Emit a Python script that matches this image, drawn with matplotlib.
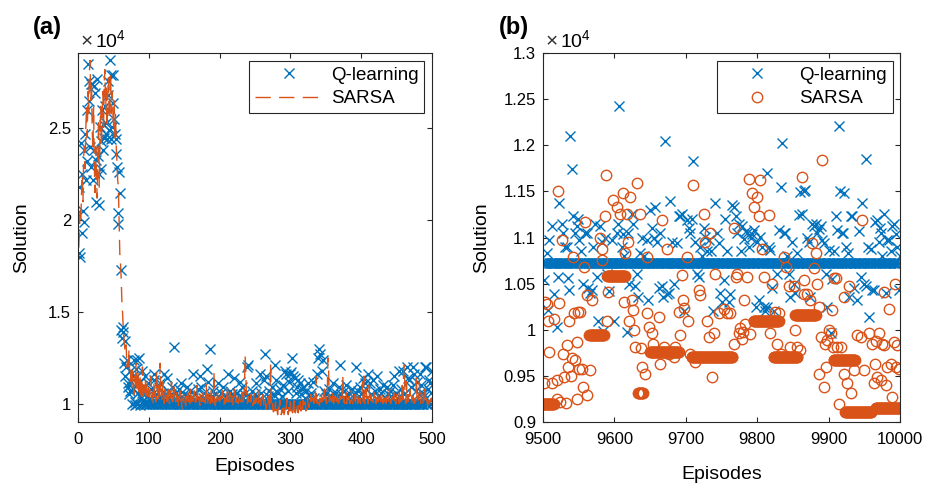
import numpy as np
import matplotlib
matplotlib.use('Agg')
import matplotlib.pyplot as plt
from matplotlib.ticker import FormatStrFormatter

plt.rcParams['font.family'] = ['Liberation Sans', 'DejaVu Sans']
plt.rcParams['mathtext.fontset'] = 'custom'
plt.rcParams['mathtext.rm'] = 'Liberation Sans'

BLUE = '#0072BD'
ORANGE = '#D95319'
AXCOL = '#262626'

# ---------------- panel (a): episodes 1..500, values in units of 1e4 ----------------
q_a_base = 1.0
# episodes 1..90, one value each
q_a_early = [1.82, 2.18, 1.80, 2.42, 1.93, 2.25, 2.05, 2.38, 1.99, 2.47,
             2.22, 2.60, 2.32, 2.85, 2.65, 2.76, 2.40, 2.74, 2.29, 2.74,
             2.22, 2.73, 2.38, 2.69, 2.33, 2.10, 2.77, 2.35, 2.25, 2.08,
             2.51, 2.28, 2.43, 2.60, 2.38, 2.52, 2.45, 2.62, 2.47, 2.53,
             2.44, 2.68, 2.76, 2.49, 2.87, 2.79, 2.44, 2.51, 2.79, 2.64,
             2.55, 2.47, 2.44, 2.36, 2.29, 2.04, 1.98, 2.26, 2.15, 1.73,
             1.40, 1.36, 1.42, 1.39, 1.22, 1.34, 1.15, 1.20, 1.24, 1.09,
             1.11, 1.05, 1.18, 1.07, 1.12, 1.00, 1.15, 1.08, 1.24, 1.01,
             0.99, 1.19, 1.24, 1.00, 1.06, 1.25, 0.99, 1.12, 1.03, 1.18]
# off-baseline Q-learning points after episode 90
q_a_ep = [91, 93, 95, 97, 99, 101, 103, 105, 107, 108, 110, 112, 114, 116, 118, 120,
          122, 124, 125, 127, 129, 131, 133, 135, 137, 139, 141, 143, 146, 148, 150,
          152, 154, 156, 158, 160, 163, 165, 167, 170, 172, 174, 176, 178, 180, 182,
          184, 187, 189, 191, 193, 195, 198, 200, 202, 205, 207, 209, 212, 214, 216,
          218, 221, 223, 225, 227, 229, 231, 233, 235, 238, 240, 242, 244, 246, 248,
          250, 252, 254, 257, 259, 262, 264, 266, 268, 270, 272, 274, 276, 278, 280,
          282, 284, 286, 288, 290, 292, 294, 296, 298, 299, 301, 302, 304, 306, 308,
          310, 311, 313, 315, 317, 318, 320, 322, 325, 327, 329, 332, 334, 337, 339,
          341, 342, 344, 346, 348, 350, 352, 355, 357, 360, 362, 364, 366, 368, 370,
          372, 374, 376, 379, 381, 383, 385, 387, 390, 393, 395, 397, 399, 401, 403,
          405, 407, 410, 412, 414, 417, 419, 422, 424, 426, 428, 431, 433, 436, 438,
          440, 442, 445, 447, 449, 451, 454, 456, 459, 461, 464, 466, 468, 470, 473,
          475, 477, 479, 481, 483, 485, 487, 489, 490, 492, 494, 496, 497, 499, 500]
q_a_val = [1.06, 1.02, 1.15, 1.04, 1.11, 1.03, 1.08, 1.01, 1.16, 1.13, 1.05, 1.02, 1.09, 1.11, 1.03, 1.06,
           1.16, 1.02, 1.14, 1.07, 1.03, 1.05, 1.09, 1.31, 1.02, 1.06, 1.04, 1.08, 1.11, 1.03, 1.05,
           1.02, 1.09, 1.04, 1.07, 1.03, 1.16, 1.05, 1.02, 1.08, 1.15, 1.09, 1.03, 1.06, 1.02, 1.19,
           1.12, 1.30, 1.04, 1.07, 1.02, 1.05, 1.11, 1.03, 1.06, 1.09, 1.02, 1.04, 1.16, 1.07, 1.03,
           1.05, 1.14, 1.02, 1.06, 1.04, 1.12, 1.09, 1.03, 1.05, 1.20, 1.21, 1.04, 1.02, 1.07, 1.03,
           1.05, 1.11, 1.02, 1.16, 1.06, 1.13, 1.27, 1.15, 1.04, 1.07, 1.03, 1.09, 1.05, 1.21, 1.13,
           1.06, 1.02, 1.08, 1.04, 1.10, 1.18, 1.16, 1.07, 1.12, 1.16, 1.17, 1.25, 1.15, 1.14, 1.06,
           1.09, 1.13, 1.11, 1.05, 1.08, 1.09, 1.03, 1.07, 1.11, 1.04, 1.06, 1.12, 1.03, 1.16, 1.25,
           1.30, 1.27, 1.18, 1.24, 1.07, 1.05, 1.03, 1.08, 1.04, 1.11, 1.02, 1.06, 1.04, 1.09, 1.21,
           1.05, 1.03, 1.07, 1.10, 1.04, 1.06, 1.02, 1.08, 1.05, 1.20, 1.07, 1.04, 1.09, 1.06, 1.14,
           1.11, 1.08, 1.16, 1.11, 1.05, 1.13, 1.07, 1.15, 1.04, 1.08, 1.06, 1.10, 1.03, 1.09, 1.05,
           1.07, 1.04, 1.10, 1.15, 1.06, 1.03, 1.18, 1.08, 1.18, 1.05, 1.20, 1.14, 1.13, 1.09, 1.20,
           1.16, 1.07, 1.12, 1.05, 1.16, 1.10, 1.06, 1.04, 1.20, 1.20, 1.08, 1.13, 1.11, 1.06, 1.18]

# SARSA, episodes 1..500
sarsa_a = [1.85, 1.95, 2.05, 2.00, 2.15, 2.25, 2.10, 2.35, 2.40, 2.28, 2.50, 2.62, 2.45, 2.70, 2.58, 2.80, 2.87, 2.65, 2.75, 2.50, 2.38, 2.62, 2.30, 2.15, 2.40,
           2.25, 2.12, 2.35, 2.55, 2.18, 2.45, 2.62, 2.40, 2.55, 2.70, 2.48, 2.75, 2.82, 2.60, 2.72, 2.50, 2.68, 2.78, 2.55, 2.65, 2.80, 2.58, 2.70, 2.62, 2.50,
           2.65, 2.45, 2.58, 2.40, 2.32, 2.22, 2.18, 2.00, 1.82, 1.76, 1.68, 1.55, 1.49, 1.40, 1.35, 1.30, 1.28, 1.32, 1.20, 1.24, 1.18, 1.30, 1.15, 1.12, 1.20,
           1.08, 1.18, 1.12, 1.05, 1.15, 1.10, 1.22, 1.06, 1.12, 1.18, 1.04, 1.10, 1.16, 1.02, 1.08, 1.20, 1.04, 1.10, 1.06, 1.14, 1.02, 1.08, 1.12, 1.04, 1.10,
           1.03, 1.09, 1.15, 1.02, 1.06, 1.00, 1.12, 1.04, 1.08, 1.01, 1.18, 1.06, 1.02, 1.10, 1.04, 1.22, 1.03, 1.07, 1.01, 1.12, 1.05, 1.00, 1.08, 1.03, 1.06,
           1.01, 1.10, 1.04, 1.00, 1.07, 1.03, 1.12, 1.01, 1.05, 1.00, 1.09, 1.03, 1.01, 1.06, 1.00, 1.04, 0.98, 1.02, 1.07, 1.00, 1.03, 0.97, 1.01, 1.05, 1.00,
           1.02, 0.99, 1.04, 1.00, 1.06, 1.01, 1.03, 1.00, 1.08, 1.01, 1.04, 0.99, 1.02, 1.07, 1.00, 1.03, 1.01, 1.10, 1.00, 1.04, 1.02, 0.99, 1.05, 1.01, 1.03,
           1.00, 1.06, 1.01, 1.04, 1.00, 1.11, 1.02, 0.99, 1.05, 1.01, 1.03, 1.00, 1.07, 1.01, 1.04, 1.00, 1.17, 1.02, 0.99, 1.04, 1.01, 1.06, 1.00, 1.03, 1.01,
           1.04, 1.00, 1.02, 1.07, 1.01, 0.99, 1.03, 1.00, 1.05, 1.01, 1.10, 1.00, 1.03, 1.01, 1.06, 1.00, 1.02, 1.04, 0.99, 1.01, 1.08, 1.00, 1.03, 1.01, 1.05,
           1.00, 1.02, 1.04, 1.00, 1.03, 1.01, 1.06, 1.00, 1.04, 1.08, 1.26, 1.18, 1.02, 1.00, 1.04, 1.01, 1.03, 1.00, 1.05, 1.01, 1.03, 0.99, 1.01, 1.06, 1.00,
           1.03, 1.01, 1.04, 1.00, 1.02, 1.07, 1.01, 0.99, 1.03, 1.00, 1.05, 1.01, 0.98, 1.02, 1.00, 0.97, 1.01, 0.99, 1.04, 0.96, 1.02, 1.22, 0.98, 0.96, 1.00,
           0.95, 0.98, 0.96, 1.01, 0.95, 0.97, 0.94, 0.99, 0.96, 1.02, 0.95, 0.94, 0.97, 0.95, 1.00, 0.94, 0.96, 0.98, 0.95, 1.03, 0.96, 0.94, 0.98, 0.95, 1.01,
           0.96, 0.99, 0.95, 0.97, 1.04, 0.96, 0.95, 0.98, 1.00, 0.96, 0.95, 0.99, 0.97, 1.01, 0.96, 0.98, 0.95, 1.02, 0.97, 0.99, 1.01, 0.96, 0.98, 1.03, 1.00,
           0.98, 1.02, 1.00, 1.05, 0.99, 1.01, 1.03, 1.00, 1.06, 1.01, 1.15, 1.02, 1.00, 1.04, 1.01, 0.99, 1.03, 1.00, 1.05, 1.01, 1.03, 1.00, 1.08, 1.01, 1.04,
           1.00, 1.02, 1.25, 1.18, 1.01, 1.04, 1.00, 1.03, 1.01, 1.07, 1.00, 1.02, 1.04, 1.00, 1.03, 1.01, 1.06, 1.00, 1.02, 1.04, 1.01, 1.00, 1.03, 1.15, 1.01,
           1.04, 1.00, 1.02, 1.06, 1.00, 1.03, 1.01, 1.04, 1.00, 1.02, 1.07, 1.01, 1.00, 1.03, 1.01, 1.05, 1.00, 1.02, 1.04, 1.00, 1.06, 1.01, 1.03, 1.00, 1.02,
           1.04, 1.12, 1.01, 1.15, 1.00, 1.03, 1.08, 1.01, 1.04, 1.00, 1.10, 1.02, 1.00, 1.05, 1.01, 1.03, 1.00, 1.06, 1.01, 1.04, 1.00, 1.02, 1.07, 1.01, 1.03,
           1.00, 1.04, 1.01, 1.02, 1.06, 1.00, 1.03, 1.01, 1.05, 1.00, 1.02, 1.04, 1.00, 1.03, 1.08, 1.01, 1.00, 1.04, 1.02, 1.00, 1.06, 1.01, 1.03, 1.00, 1.05,
           1.01, 1.03, 1.00, 1.07, 1.01, 1.04, 1.00, 1.10, 1.02, 1.18, 1.21, 1.03, 1.00, 1.12, 1.01, 1.05, 1.00, 1.03, 1.08, 1.01, 1.00, 1.04, 1.02, 1.06, 1.00,
           1.03, 1.01, 1.15, 1.00, 1.04, 1.02, 1.12, 1.01, 1.00, 1.06, 1.03, 1.00, 1.05, 1.01, 1.08, 1.00, 1.03, 1.01, 0.99, 1.04, 1.00, 1.02, 1.01, 1.03, 1.00]

# ---------------- panel (b): episodes 9500..10000 ----------------
q_b_base = 1.072
q_b_ep = [9502, 9505, 9507, 9509, 9512, 9516, 9519, 9521, 9523, 9526, 9528, 9531, 9533, 9535, 9537,
          9538, 9540, 9542, 9545, 9547, 9549, 9551, 9553, 9556, 9559, 9561, 9563, 9566, 9568, 9570,
          9573, 9575, 9577, 9580, 9582, 9584, 9587, 9590, 9593, 9596, 9599, 9603, 9605, 9607, 9610,
          9612, 9614, 9617, 9619, 9621, 9624, 9626, 9629, 9631, 9633, 9636, 9639, 9642, 9645, 9647,
          9650, 9652, 9655, 9657, 9660, 9662, 9664, 9666, 9668, 9671, 9673, 9676, 9678, 9681, 9684,
          9687, 9690, 9692, 9694, 9697, 9701, 9704, 9706, 9708, 9710, 9713, 9715, 9718, 9720, 9723,
          9725, 9727, 9729, 9732, 9735, 9738, 9741, 9744, 9746, 9748, 9750, 9753, 9755, 9757, 9760,
          9762, 9764, 9767, 9770, 9772, 9775, 9777, 9779, 9781, 9784, 9786, 9788, 9791, 9793, 9795,
          9798, 9800, 9802, 9804, 9807, 9809, 9811, 9813, 9814, 9816, 9818, 9821, 9823, 9828, 9831,
          9833, 9835, 9837, 9839, 9841, 9844, 9846, 9849, 9851, 9853, 9856, 9858, 9860, 9863, 9865,
          9867, 9870, 9872, 9874, 9877, 9879, 9882, 9884, 9886, 9889, 9891, 9893, 9896, 9898, 9900,
          9903, 9905, 9908, 9910, 9912, 9914, 9916, 9918, 9920, 9922, 9924, 9927, 9929, 9931, 9933,
          9935, 9938, 9940, 9942, 9945, 9947, 9949, 9952, 9953, 9955, 9957, 9959, 9961, 9963, 9965,
          9968, 9970, 9972, 9973, 9975, 9977, 9980, 9982, 9985, 9987, 9989, 9992, 9994, 9996, 9998, 10000]
q_b_val = [1.054, 1.083, 1.021, 1.097, 1.112, 1.039, 1.003, 1.057, 1.137, 1.115, 1.105, 1.090, 1.090, 1.056, 1.043,
           1.210, 1.174, 1.123, 1.105, 1.112, 1.120, 1.097, 1.085, 1.050, 1.105, 1.105, 1.045, 1.040, 1.043, 1.090,
           1.115, 1.057, 1.010, 1.112, 1.095, 0.999, 1.100, 1.060, 1.042, 1.097, 1.010, 1.105, 1.115, 1.243, 1.090,
           1.104, 1.080, 0.998, 1.105, 1.050, 1.126, 1.115, 1.047, 1.060, 1.035, 1.083, 1.100, 1.080, 1.097, 1.032,
           1.130, 1.110, 1.100, 1.133, 1.095, 1.045, 1.105, 1.047, 1.035, 1.205, 1.039, 1.040, 1.140, 1.095, 1.050,
           1.094, 1.123, 1.123, 1.126, 1.020, 1.119, 1.110, 1.105, 1.120, 1.183, 1.095, 1.060, 1.057, 1.090, 1.080,
           1.110, 1.101, 1.085, 1.097, 1.085, 1.020, 1.137, 1.105, 1.094, 1.040, 1.030, 1.054, 1.120, 1.085, 1.030,
           1.039, 1.135, 1.133, 1.123, 1.105, 1.115, 1.085, 1.112, 1.098, 1.107, 1.105, 1.090, 1.100, 1.104, 1.108,
           1.025, 1.095, 1.032, 1.101, 1.090, 1.025, 1.020, 1.170, 1.025, 1.090, 1.087, 1.045, 1.020, 1.060, 1.108,
           1.155, 1.203, 1.105, 1.105, 1.080, 1.061, 1.035, 1.095, 1.050, 1.040, 1.083, 1.125, 1.149, 1.126, 1.150,
           1.152, 1.100, 1.095, 1.035, 1.115, 1.112, 1.115, 1.105, 1.109, 1.112, 1.097, 1.094, 1.060, 1.025, 1.086,
           0.996, 1.055, 1.085, 1.123, 1.108, 1.221, 1.150, 1.105, 1.105, 1.148, 1.090, 1.083, 1.035, 1.123, 1.123,
           1.045, 1.240, 1.032, 1.107, 1.057, 1.137, 1.050, 1.185, 1.047, 1.090, 1.014, 1.088, 1.043, 1.043, 1.117,
           1.119, 1.095, 1.110, 1.105, 1.080, 1.126, 1.040, 1.097, 1.097, 1.085, 1.112, 1.115, 1.104, 1.090, 1.043, 1.080]

# SARSA runs of equal value (start episode, end episode, value)
sarsa_b_run_start = [9500, 9565, 9590, 9633, 9650, 9708, 9795, 9823, 9853, 9907, 9923, 9966]
sarsa_b_run_end = [9515, 9585, 9615, 9640, 9690, 9765, 9830, 9856, 9882, 9937, 9960, 10000]
sarsa_b_run_val = [0.920, 0.994, 1.058, 0.931, 0.976, 0.971, 1.010, 0.970, 1.016, 0.967, 0.911, 0.915]
# SARSA scattered points
sarsa_b_ep = [9502, 9503, 9505, 9507, 9509, 9512, 9516, 9519, 9520, 9521, 9523, 9524, 9526, 9528, 9530,
              9532, 9533, 9535, 9537, 9539, 9540, 9542, 9544, 9545, 9547, 9548, 9549, 9551, 9552, 9554,
              9556, 9557, 9559, 9561, 9562, 9566, 9568, 9580, 9582, 9583, 9587, 9588, 9589, 9591, 9598,
              9603, 9608, 9612, 9613, 9615, 9617, 9619, 9620, 9622, 9624, 9626, 9628, 9629, 9631, 9636,
              9637, 9638, 9643, 9645, 9646, 9648, 9652, 9654, 9662, 9666, 9664, 9669, 9673, 9676, 9683,
              9685, 9690, 9692, 9694, 9696, 9698, 9701, 9703, 9706, 9710, 9713, 9718, 9720, 9725, 9727,
              9729, 9732, 9734, 9736, 9739, 9741, 9746, 9753, 9757, 9762, 9767, 9768, 9770, 9772, 9774,
              9776, 9778, 9780, 9781, 9783, 9785, 9788, 9790, 9793, 9795, 9800, 9803, 9804, 9807, 9809,
              9816, 9818, 9821, 9825, 9828, 9831, 9833, 9837, 9840, 9844, 9846, 9851, 9853, 9856, 9860,
              9863, 9865, 9866, 9870, 9874, 9877, 9879, 9882, 9884, 9886, 9887, 9889, 9891, 9893, 9895,
              9896, 9898, 9900, 9903, 9905, 9906, 9907, 9910, 9912, 9914, 9917, 9921, 9922, 9926, 9928,
              9931, 9935, 9940, 9945, 9947, 9949, 9956, 9961, 9963, 9965, 9967, 9968, 9970, 9973, 9975,
              9977, 9978, 9980, 9982, 9985, 9987, 9989, 9992, 9993, 9994, 9996, 9998]
sarsa_b_val = [0.942, 1.030, 1.028, 1.010, 0.976, 0.942, 1.012, 0.945, 0.925, 1.150, 1.029, 0.922, 1.097, 0.974, 0.949,
               0.921, 0.983, 0.960, 1.010, 0.950, 0.969, 1.079, 1.018, 0.967, 0.987, 0.925, 1.019, 0.958, 1.019, 0.957,
               0.938, 1.068, 1.117, 0.929, 1.038, 0.956, 1.032, 1.099, 1.076, 1.088, 1.123, 1.168, 1.010, 1.041, 1.141,
               1.133, 1.126, 1.148, 1.030, 1.083, 1.126, 1.095, 1.010, 1.144, 1.032, 1.021, 1.000, 0.981, 1.159, 1.126,
               0.980, 0.960, 0.952, 1.079, 1.018, 1.003, 0.996, 0.985, 1.014, 1.119, 0.963, 0.981, 1.088, 0.974, 0.971,
               0.981, 1.019, 0.994, 1.059, 1.032, 1.024, 1.079, 1.010, 0.974, 1.157, 0.965, 1.043, 1.038, 1.126, 1.095,
               1.009, 0.992, 1.105, 0.949, 0.996, 1.061, 1.018, 1.023, 1.018, 1.018, 1.110, 0.985, 1.057, 1.061, 0.997,
               1.002, 0.990, 0.998, 1.032, 1.006, 1.057, 1.164, 0.995, 1.148, 1.133, 1.144, 1.123, 1.162, 1.088, 1.057,
               1.124, 0.996, 1.050, 1.019, 0.985, 1.018, 0.974, 1.079, 1.068, 1.047, 0.981, 1.047, 1.000, 0.981, 0.978,
               1.166, 1.039, 1.054, 1.039, 1.032, 1.094, 1.067, 1.083, 1.050, 1.025, 0.952, 0.992, 1.184, 0.938, 0.985,
               0.960, 0.989, 1.000, 0.996, 1.021, 0.981, 1.056, 1.056, 0.981, 0.920, 0.981, 1.036, 0.952, 0.942, 1.047,
               0.931, 0.956, 0.994, 0.992, 1.119, 0.956, 0.996, 0.985, 0.942, 0.963, 0.988, 0.949, 0.996, 0.945, 0.985,
               0.983, 1.041, 0.940, 0.960, 1.023, 0.963, 0.927, 0.987, 1.050, 0.960, 0.983, 0.958]


def style_axes(ax):
    for sp in ax.spines.values():
        sp.set_color(AXCOL)
        sp.set_linewidth(0.8)
    ax.tick_params(direction='in', top=True, right=True, length=3.6, width=0.8,
                   colors=AXCOL, labelsize=12, labelcolor='black')
    ax.tick_params(axis='x', pad=7)
    ax.tick_params(axis='y', pad=5)


def add_legend(ax, handles):
    leg = ax.legend(handles=handles, labels=['Q-learning', 'SARSA'], loc='upper right',
                    fontsize=13.5, frameon=True, fancybox=False, framealpha=1,
                    edgecolor=AXCOL, handlelength=3.7, handletextpad=0.37,
                    borderpad=0.32, labelspacing=0.35, borderaxespad=0.4)
    leg.get_frame().set_linewidth(0.8)


def plot_a(ax):
    ep = np.arange(1, 501)
    q = np.full(500, q_a_base)
    q[:len(q_a_early)] = q_a_early
    q[np.array(q_a_ep) - 1] = q_a_val
    h1, = ax.plot(ep, q, linestyle='none', marker='x', markersize=7.5,
                  markeredgewidth=1.0, color=BLUE)
    h2, = ax.plot(ep, sarsa_a, linestyle=(0, (11, 6)), linewidth=1.0, color=ORANGE)
    ax.set_xlim(0, 500)
    ax.set_ylim(0.9, 2.91)
    ax.set_xticks([0, 100, 200, 300, 400, 500])
    ax.set_yticks([1, 1.5, 2, 2.5])
    ax.yaxis.set_major_formatter(FormatStrFormatter('%g'))
    add_legend(ax, [h1, h2])


def plot_b(ax):
    ep = np.arange(9500, 10001)
    q = np.full(len(ep), q_b_base)
    q[np.array(q_b_ep) - 9500] = q_b_val
    h1, = ax.plot(ep, q, linestyle='none', marker='x', markersize=7.5,
                  markeredgewidth=1.0, color=BLUE)

    s_ep, s_val = [], []
    for s, e, v in zip(sarsa_b_run_start, sarsa_b_run_end, sarsa_b_run_val):
        run = list(range(s, e + 1))
        s_ep += run
        s_val += [v] * len(run)
    s_ep += sarsa_b_ep
    s_val += sarsa_b_val
    h2, = ax.plot(s_ep, s_val, linestyle='none', marker='o', markersize=7.5,
                  markerfacecolor='none', markeredgewidth=1.0, color=ORANGE)
    ax.set_xlim(9500, 10000)
    ax.set_ylim(0.9, 1.3)
    ax.set_xticks([9500, 9600, 9700, 9800, 9900, 10000])
    ax.set_yticks([0.9, 0.95, 1.0, 1.05, 1.1, 1.15, 1.2, 1.25, 1.3])
    ax.yaxis.set_major_formatter(FormatStrFormatter('%g'))
    add_legend(ax, [h1, h2])


def main():
    fig = plt.figure(figsize=(9.3, 4.86), dpi=100)
    ax_a = fig.add_axes([0.0839, 0.1317, 0.3806, 0.759])
    ax_b = fig.add_axes([0.5839, 0.1317, 0.3839, 0.759])

    plot_a(ax_a)
    plot_b(ax_b)

    for ax, ylx, xly in [(ax_a, -0.135, -0.097), (ax_b, -0.147, -0.12)]:
        style_axes(ax)
        ax.set_ylabel('Solution', fontsize=14)
        ax.set_xlabel('Episodes', fontsize=14)
        ax.yaxis.set_label_coords(ylx, 0.5)
        ax.xaxis.set_label_coords(0.5, xly)
        # MATLAB-style exponent label above the y axis
        ax.text(0.008, 1.004, '\u00d7', transform=ax.transAxes, color='#333333',
                ha='left', va='bottom', fontsize=15)
        ax.text(0.048, 1.002, r'$10^{4}$', transform=ax.transAxes,
                ha='left', va='bottom', fontsize=14)

    fig.text(0.0355, 0.943, '(a)', fontsize=17, fontweight='bold', va='center')
    fig.text(0.5366, 0.943, '(b)', fontsize=17, fontweight='bold', va='center')

    fig.savefig('out.png', dpi=100)


if __name__ == '__main__':
    main()
